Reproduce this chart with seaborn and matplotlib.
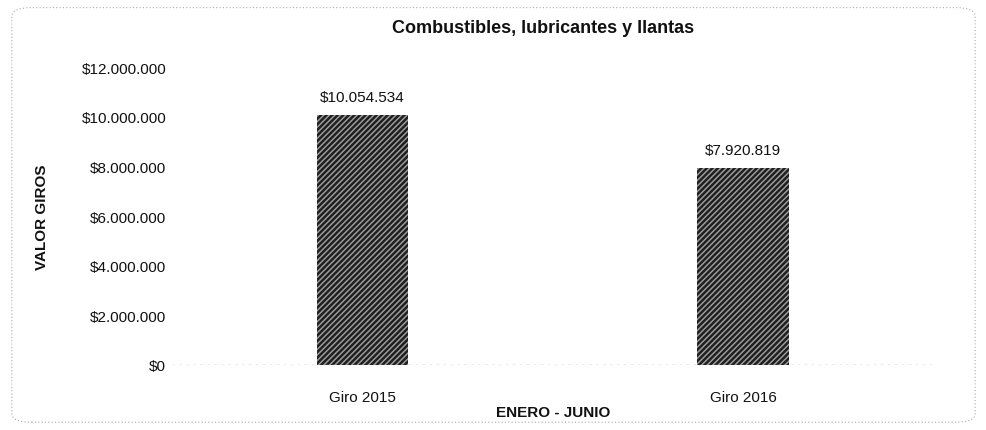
import numpy as np
import pandas as pd
import matplotlib
matplotlib.use("Agg")
import matplotlib.pyplot as plt
import seaborn as sns
from matplotlib.patches import FancyBboxPatch

categories = ["Giro 2015", "Giro 2016"]
valores = [10054534, 7920819]
etiquetas = ["$10.054.534", "$7.920.819"]
yticks = [0, 2000000, 4000000, 6000000, 8000000, 10000000, 12000000]
ytick_labels = ["$0", "$2.000.000", "$4.000.000", "$6.000.000", "$8.000.000", "$10.000.000", "$12.000.000"]

sns.set_style("white")
plt.rcParams['font.family'] = ['Liberation Sans', 'DejaVu Sans']
plt.rcParams['hatch.linewidth'] = 1.1

df = pd.DataFrame({"giro": categories, "valor": valores})

fig = plt.figure(figsize=(9.87, 4.31), dpi=100)
ax = fig.add_axes([0.174, 0.151, 0.772, 0.691])

sns.barplot(data=df, x="giro", y="valor", ax=ax, color="#1e1e1e", width=0.24, saturation=1)
for p in ax.patches:
    p.set_hatch("//////")
    p.set_edgecolor("#9a9a9a")
    p.set_linewidth(0)

for i, (v, t) in enumerate(zip(valores, etiquetas)):
    ax.text(i, v + 450000, t, ha="center", va="bottom", fontsize=11, color="#111111")

ax.set_ylim(0, 12000000)
ax.set_yticks(yticks)
ax.set_yticklabels(ytick_labels, fontsize=11, color="#111111")
ax.tick_params(axis="x", labelsize=11, length=0, pad=18, labelcolor="#111111")
ax.tick_params(axis="y", length=0, pad=4)
for s in ax.spines.values():
    s.set_visible(False)
ax.axhline(0, color="#999999", lw=1, ls=(0, (2, 3)))

ax.set_xlabel("ENERO - JUNIO", fontsize=11, fontweight="bold", labelpad=1, color="#111111")
ax.set_ylabel("VALOR GIROS", fontsize=11, fontweight="bold", labelpad=23, color="#111111")
fig.text(0.55, 0.935, "Combustibles, lubricantes y llantas", ha="center", va="center",
         fontsize=13, fontweight="bold", color="#111111")

border = FancyBboxPatch((0.012, 0.018), 0.976, 0.962, boxstyle="round,pad=0,rounding_size=0.02",
                        transform=fig.transFigure, fill=False, edgecolor="#aaaaaa",
                        lw=0.8, ls=(0, (1, 2)))
fig.patches.append(border)

fig.savefig("out.png", dpi=100)
